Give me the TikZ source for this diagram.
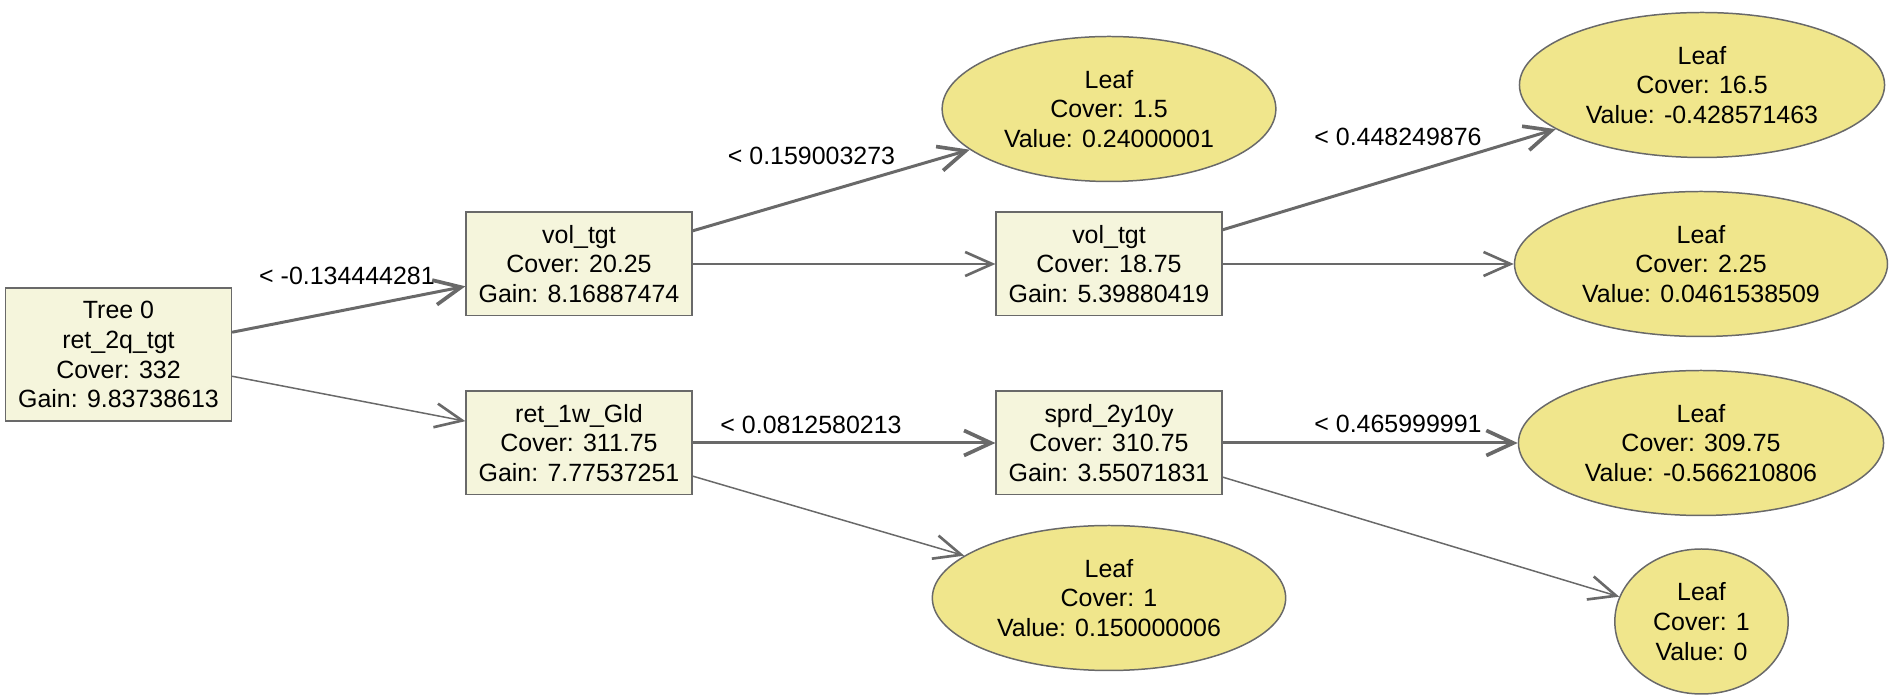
\documentclass[tikz,border=0pt]{standalone}
\usepackage{fontspec}
\setmainfont{Liberation Sans}
\usepackage{tikz}
\usetikzlibrary{shapes.geometric,arrows.meta}

\definecolor{edgegray}{RGB}{105,105,105}
\definecolor{splitfill}{RGB}{245,245,220}
\definecolor{leaffill}{RGB}{240,230,140}

\begin{document}
\begin{tikzpicture}
        \tikzstyle{split}=[rectangle, draw=edgegray, line width=0.85pt, fill=splitfill, align=center,
                           font=\fontsize{14.2pt}{17pt}\selectfont, inner xsep=0.25cm,
                           minimum width=4.49cm, minimum height=2.07cm]
        \tikzstyle{leaf}=[ellipse, draw=edgegray, line width=0.85pt, fill=leaffill, align=center,
                          font=\fontsize{14.2pt}{17pt}\selectfont, inner xsep=0.26cm, inner ysep=0.1cm,
                          minimum height=2.9cm]
        \tikzstyle{cond}=[font=\fontsize{14.2pt}{17pt}\selectfont, inner sep=0pt]
        \tikzstyle{yes}=[draw=edgegray, line width=1.7pt,
                         -{Straight Barb[length=0.54cm,width=0.5cm,line width=2.1pt]}]
        \tikzstyle{no}=[draw=edgegray, line width=0.85pt,
                        -{Straight Barb[length=0.54cm,width=0.48cm,line width=1.5pt]}]

        \useasboundingbox (0,0) rectangle (37.96,13.92);

        \node[split, minimum height=2.66cm] (root) at (2.37,6.83) {Tree 0\\ret\_2q\_tgt\\Cover: 332\\Gain: 9.83738613};
        \node[split] (vola) at (11.58,8.64) {vol\_tgt\\Cover: 20.25\\Gain: 8.16887474};
        \node[split] (gld)  at (11.58,5.06) {ret\_1w\_Gld\\Cover: 311.75\\Gain: 7.77537251};
        \node[split] (volb) at (22.18,8.64) {vol\_tgt\\Cover: 18.75\\Gain: 5.39880419};
        \node[split] (sprd) at (22.18,5.06) {sprd\_2y10y\\Cover: 310.75\\Gain: 3.55071831};

        \node[leaf] (la) at (22.18,11.74) {Leaf\\Cover: 1.5\\Value: 0.24000001};
        \node[leaf] (lb) at (22.18,1.96)  {Leaf\\Cover: 1\\Value: 0.150000006};
        \node[leaf] (lc) at (34.04,12.22) {Leaf\\Cover: 16.5\\Value: -0.428571463};
        \node[leaf] (ld) at (34.02,8.64)  {Leaf\\Cover: 2.25\\Value: 0.0461538509};
        \node[leaf] (le) at (34.02,5.06)  {Leaf\\Cover: 309.75\\Value: -0.566210806};
        \node[leaf] (lf) at (34.03,1.49)  {Leaf\\Cover: 1\\Value: 0};

        \draw[yes] (root) -- (vola);
        \draw[no]  (root) -- (gld);
        \draw[yes] (vola) -- (la);
        \draw[no]  (vola) -- (volb);
        \draw[yes] (gld) -- (sprd);
        \draw[no]  (gld) -- (lb);
        \draw[yes] (volb) -- (lc);
        \draw[no]  (volb) -- (ld);
        \draw[yes] (sprd) -- (le);
        \draw[no]  (sprd) -- (lf);

        \node[cond] (ca) at (6.94,8.40)  {< -0.134444281};
        \node[cond] (cb) at (16.23,10.80) {< 0.159003273};
        \node[cond] (cc) at (16.22,5.43)  {< 0.0812580213};
        \node[cond] (cd) at (27.96,11.18) {< 0.448249876};
        \node[cond] (ce) at (27.96,5.44)  {< 0.465999991};

    \end{tikzpicture}
\end{document}
